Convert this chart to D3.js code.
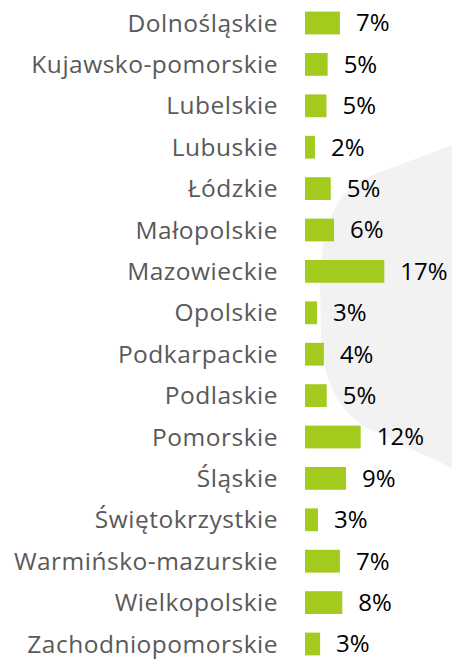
<!DOCTYPE html>
<html>
<head>
<meta charset="utf-8">
<script src="https://d3js.org/d3.v7.min.js"></script>
<style>
  html, body { margin: 0; padding: 0; background: #fff; }
</style>
</head>
<body>
<div id="chart"></div>
<script>
const regions = [
  "Dolnośląskie", "Kujawsko-pomorskie", "Lubelskie", "Lubuskie", "Łódzkie",
  "Małopolskie", "Mazowieckie", "Opolskie", "Podkarpackie", "Podlaskie",
  "Pomorskie", "Śląskie", "Świętokrzystkie", "Warmińsko-mazurskie",
  "Wielkopolskie", "Zachodniopomorskie"
];
// share of total (%)
const shares = [7.4, 4.8, 4.55, 2.1, 5.45, 6.15, 16.8, 2.55, 4.0, 4.6, 11.8, 8.7, 2.75, 7.4, 7.9, 3.2];

const data = regions.map((r, i) => ({ region: r, value: shares[i] }));

const svgWidth = 452;
const svgHeight = 666;
const font = "'Open Sans', sans-serif";

const svg = d3.select("#chart")
  .append("svg")
  .attr("width", svgWidth)
  .attr("height", svgHeight)
  .style("font-family", font);

// light grey decorative shape behind the bars
svg.append("path")
  .attr("d", "M452,145 L370,176 Q322,195 320,280 L321,338 Q325,410 375,432 L452,468 Z")
  .attr("fill", "#f2f2f2");

const y = d3.scaleBand()
  .domain(regions)
  .range([2.3, 664.7])
  .paddingInner(0.45)
  .paddingOuter(0.225);

const x = d3.scaleLinear()
  .domain([0, 17])
  .range([305, 305 + 17 * 4.72]);

svg.selectAll("rect.bar")
  .data(data)
  .enter()
  .append("rect")
  .attr("class", "bar")
  .attr("x", x(0))
  .attr("y", d => y(d.region))
  .attr("width", d => x(d.value) - x(0))
  .attr("height", y.bandwidth())
  .attr("fill", "#a2cb1e");

// category labels
svg.selectAll("text.cat")
  .data(data)
  .enter()
  .append("text")
  .attr("class", "cat")
  .attr("x", 278)
  .attr("y", d => y(d.region) + y.bandwidth() / 2)
  .attr("dy", "0.35em")
  .attr("text-anchor", "end")
  .style("font-size", "24.5px")
  .style("letter-spacing", "0.5px")
  .style("fill", "#595959")
  .text(d => d.region);

// value labels
svg.selectAll("text.val")
  .data(data)
  .enter()
  .append("text")
  .attr("class", "val")
  .attr("x", d => x(d.value) + 16)
  .attr("y", d => y(d.region) + y.bandwidth() / 2)
  .attr("dy", "0.35em")
  .style("font-size", "24px")
  .style("fill", "#000")
  .text(d => Math.round(d.value) + "%");
</script>
</body>
</html>
